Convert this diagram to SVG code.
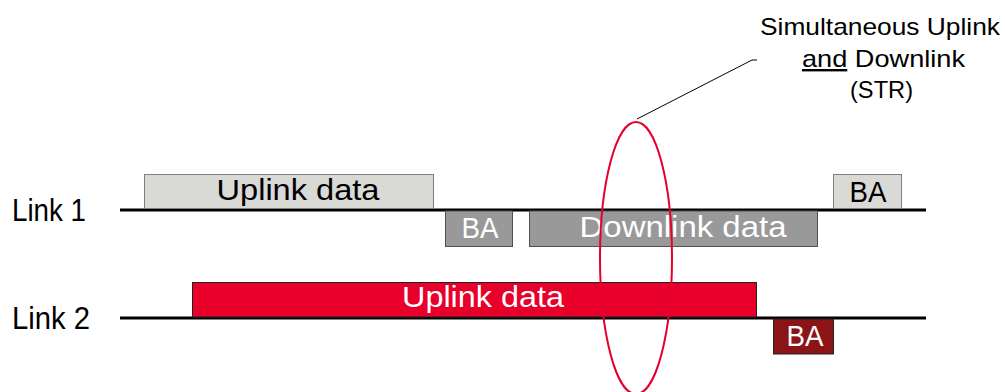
<svg xmlns="http://www.w3.org/2000/svg" width="1005" height="392" viewBox="0 0 1005 392">
<style>
text{font-family:"Liberation Sans",Arial,sans-serif;}
.lbl{font-size:31px;fill:#000;}
.box{font-size:30px;text-anchor:middle;}
.w{fill:#fff;}
.k{fill:#000;}
.light{fill:#d9d9d6;stroke:#7f7f7f;stroke-width:1;}
.dark{fill:#999999;stroke:#505050;stroke-width:1;}
.red{fill:#e8002a;stroke:#222;stroke-width:1;}
.dred{fill:#8b1416;stroke:#222;stroke-width:1;}
.axis{stroke:#000;stroke-width:3;fill:none;}
.note{font-size:24px;text-anchor:middle;fill:#000;}
</style>
<rect width="1005" height="392" fill="#fff"/>
<g id="link1">
<text class="lbl" x="12" y="221" textLength="74" lengthAdjust="spacingAndGlyphs">Link 1</text>
<line class="axis" x1="120" y1="210" x2="926" y2="210"/>
</g>
<g id="link2">
<text class="lbl" x="12" y="329" textLength="78" lengthAdjust="spacingAndGlyphs">Link 2</text>
<line class="axis" x1="120" y1="318" x2="926" y2="318"/>
</g>
<g id="uplink1">
<rect class="light" x="144.5" y="174.5" width="289" height="34"/>
<text class="box k" x="298" y="200" textLength="163" lengthAdjust="spacingAndGlyphs">Uplink data</text>
</g>
<g id="ba1">
<rect class="dark" x="445.5" y="211" width="67" height="35.5"/>
<text class="box w" x="480" y="238" textLength="37" lengthAdjust="spacingAndGlyphs">BA</text>
</g>
<g id="downlink1">
<rect class="dark" x="529.5" y="211" width="288" height="35.5"/>
<text class="box w" x="683" y="237" textLength="207" lengthAdjust="spacingAndGlyphs">Downlink data</text>
</g>
<g id="ba1b">
<rect class="light" x="833.5" y="174.5" width="68" height="34"/>
<text class="box k" x="868" y="202" textLength="37" lengthAdjust="spacingAndGlyphs">BA</text>
</g>
<g id="uplink2">
<rect class="red" x="192.5" y="282.5" width="564" height="34.5"/>
<text class="box w" x="483" y="307" textLength="162" lengthAdjust="spacingAndGlyphs">Uplink data</text>
</g>
<g id="ba2">
<rect class="dred" x="773.5" y="319" width="60" height="35"/>
<text class="box w" x="805" y="346" textLength="37" lengthAdjust="spacingAndGlyphs">BA</text>
</g>
<g id="str">
<ellipse cx="636" cy="258" rx="36" ry="136" fill="none" stroke="#e4002b" stroke-width="2"/>
<text class="note" x="880" y="35" textLength="240" lengthAdjust="spacingAndGlyphs">Simultaneous Uplink</text>
<text class="note" x="883.5" y="67" textLength="163" lengthAdjust="spacingAndGlyphs"><tspan text-decoration="underline">and</tspan> Downlink</text>
<text class="note" x="881.5" y="98" textLength="63" lengthAdjust="spacingAndGlyphs">(STR)</text>
</g>
<g id="connectors">
<polyline points="637,119 752,60 757,60" fill="none" stroke="#000" stroke-width="1"/>
</g>
</svg>
